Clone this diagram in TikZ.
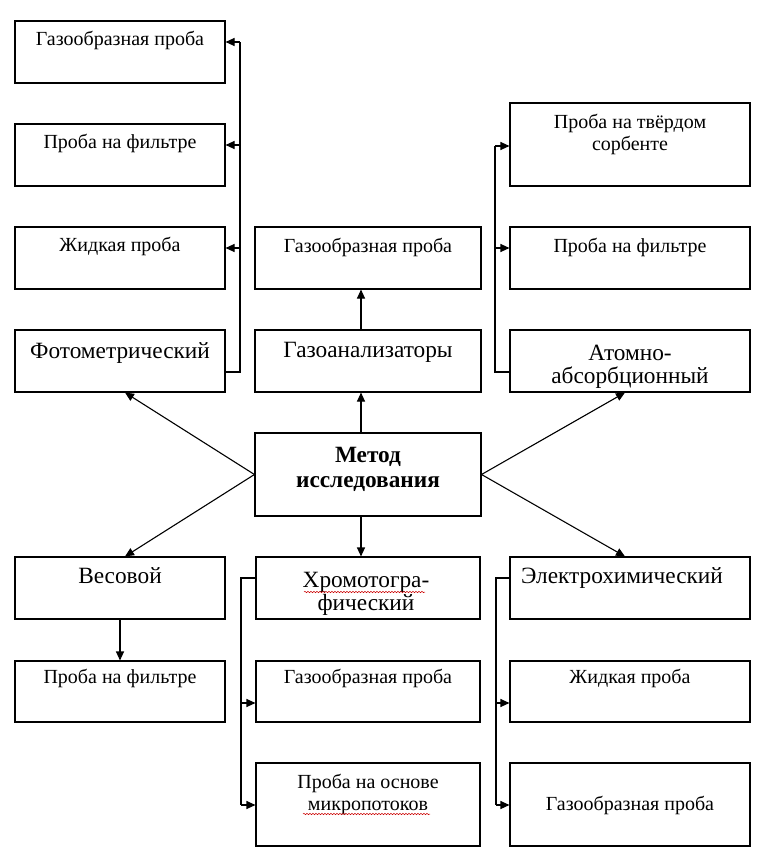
\documentclass[tikz,border=0pt]{standalone}
\usepackage{fontspec}
\setmainfont{Liberation Serif}
\usetikzlibrary{fit,arrows.meta,decorations.pathmorphing}
\begin{document}
\begin{tikzpicture}[x=1pt,y=-1pt,
  bx/.style={draw, line width=1.1pt, inner sep=0pt},
  sm/.style={font=\fontsize{20}{22}\selectfont, inner sep=0pt, align=center},
  bg/.style={font=\fontsize{23.3}{23}\selectfont, inner sep=0pt, align=center},
  bd/.style={font=\fontsize{23.3}{25}\selectfont\bfseries, inner sep=0pt, align=center},
  ln/.style={line width=1.1pt},
  arr/.style={ln, -{Triangle[length=9pt,width=8pt]}},
  squig/.style={red!80!black, line width=0.5pt, decorate, decoration={snake, amplitude=0.7pt, segment length=3pt}}
]
\useasboundingbox (0,0) rectangle (766,862);
\fill[white] (0,0) rectangle (766,862);
% boxes
\node[bx, fit={(15,21) (225,83)}] (g1) {};
\node[bx, fit={(15,124) (225,186)}] (g2) {};
\node[bx, fit={(15,227) (225,289)}] (g3) {};
\node[bx, fit={(15,330) (225,392)}] (fot) {};
\node[bx, fit={(255,227) (481,289)}] (gp) {};
\node[bx, fit={(255,330) (481,392)}] (gan) {};
\node[bx, fit={(510,103) (750,186)}] (ts) {};
\node[bx, fit={(510,227) (750,289)}] (rf) {};
\node[bx, fit={(510,330) (750,392)}] (at) {};
\node[bx, fit={(255,433) (481,516)}] (cen) {};
\node[bx, fit={(15,557) (225,619)}] (ves) {};
\node[bx, fit={(15,661) (225,722)}] (vf) {};
\node[bx, fit={(256,557) (480,619)}] (hr) {};
\node[bx, fit={(256,661) (480,722)}] (hg) {};
\node[bx, fit={(256,763) (480,846)}] (hm) {};
\node[bx, fit={(510,557) (750,619)}] (el) {};
\node[bx, fit={(510,661) (750,722)}] (ej) {};
\node[bx, fit={(510,763) (750,846)}] (eg) {};
% texts (base = baseline of the last line)
\node[sm, anchor=base] (tg1) at (120,45) {Газообразная проба};
\node[sm, anchor=base] (tg2) at (120,148) {Проба на фильтре};
\node[sm, anchor=base] (tg3) at (120,251) {Жидкая проба};
\node[bg, anchor=base] (tfot) at (120,358) {Фотометрический};
\node[sm, anchor=base] (tgp) at (368,252) {Газообразная проба};
\node[bg, anchor=base] (tgan) at (368,357) {Газоанализаторы};
\node[sm, anchor=base] (tts) at (630,150) {Проба на твёрдом\\сорбенте};
\node[sm, anchor=base] (trf) at (630,252) {Проба на фильтре};
\node[bg, anchor=base] (tat) at (630,383) {Атомно-\\абсорбционный};
\node[bd, anchor=base] (tcen) at (368,487) {Метод\\исследования};
\node[bg, anchor=base] (tves) at (120,583) {Весовой};
\node[sm, anchor=base] (tvf) at (120,683) {Проба на фильтре};
\node[bg, anchor=base] (thr) at (366,610) {Хромотогра-\\фический};
\node[sm, anchor=base] (thg) at (368,683) {Газообразная проба};
\node[sm, anchor=base] (thm) at (368,810) {Проба на основе\\микропотоков};
\node[bg, anchor=base] (tel) at (622,583) {Электрохимический};
\node[sm, anchor=base] (tej) at (630,683) {Жидкая проба};
\node[sm, anchor=base] (teg) at (630,810) {Газообразная проба};
% spell-check squiggles
\coordinate (sq1a) at (304,592); \coordinate (sq1b) at (425,592);
\coordinate (sq2a) at (303,814); \coordinate (sq2b) at (430,814);
\draw[squig] (sq1a) -- (sq1b);
\draw[squig] (sq2a) -- (sq2b);
% left top bus
\coordinate (lb1) at (240,42); \coordinate (lb2) at (240,145);
\coordinate (lb3) at (240,248); \coordinate (lb4) at (240,372);
\draw[ln] (lb4 -| fot.east) -- (lb4) -- (lb1);
\draw[arr] (lb1) -- (lb1 -| g1.east);
\draw[arr] (lb2) -- (lb2 -| g2.east);
\draw[arr] (lb3) -- (lb3 -| g3.east);
% right top bus
\coordinate (rb1) at (495,146); \coordinate (rb2) at (495,248); \coordinate (rb3) at (495,372);
\draw[ln] (rb3 -| at.west) -- (rb3) -- (rb1);
\draw[arr] (rb1) -- (rb1 -| ts.west);
\draw[arr] (rb2) -- (rb2 -| rf.west);
% middle bottom bus
\coordinate (mb0) at (241,578); \coordinate (mb1) at (241,703); \coordinate (mb2) at (241,805);
\draw[ln] (mb0 -| hr.west) -- (mb0) -- (mb2);
\draw[arr] (mb1) -- (mb1 -| hg.west);
\draw[arr] (mb2) -- (mb2 -| hm.west);
% right bottom bus
\coordinate (eb0) at (496,578); \coordinate (eb1) at (496,703); \coordinate (eb2) at (496,805);
\draw[ln] (eb0 -| el.west) -- (eb0) -- (eb2);
\draw[arr] (eb1) -- (eb1 -| ej.west);
\draw[arr] (eb2) -- (eb2 -| eg.west);
% vertical arrows
\draw[arr] ([xshift=-7pt]cen.north) -- ([xshift=-7pt]gan.south);
\draw[arr] ([xshift=-7pt]gan.north) -- ([xshift=-7pt]gp.south);
\draw[arr] ([xshift=-7pt]cen.south) -- ([xshift=-7pt]hr.north);
\draw[arr] (ves.south) -- (vf.north);
% diagonals
\draw[arr] (cen.west) -- ([xshift=5pt]fot.south);
\draw[arr] (cen.west) -- ([xshift=5pt]ves.north);
\draw[arr] (cen.east) -- ([xshift=-5pt]at.south);
\draw[arr] (cen.east) -- ([xshift=-5pt]el.north);
\end{tikzpicture}
\end{document}
